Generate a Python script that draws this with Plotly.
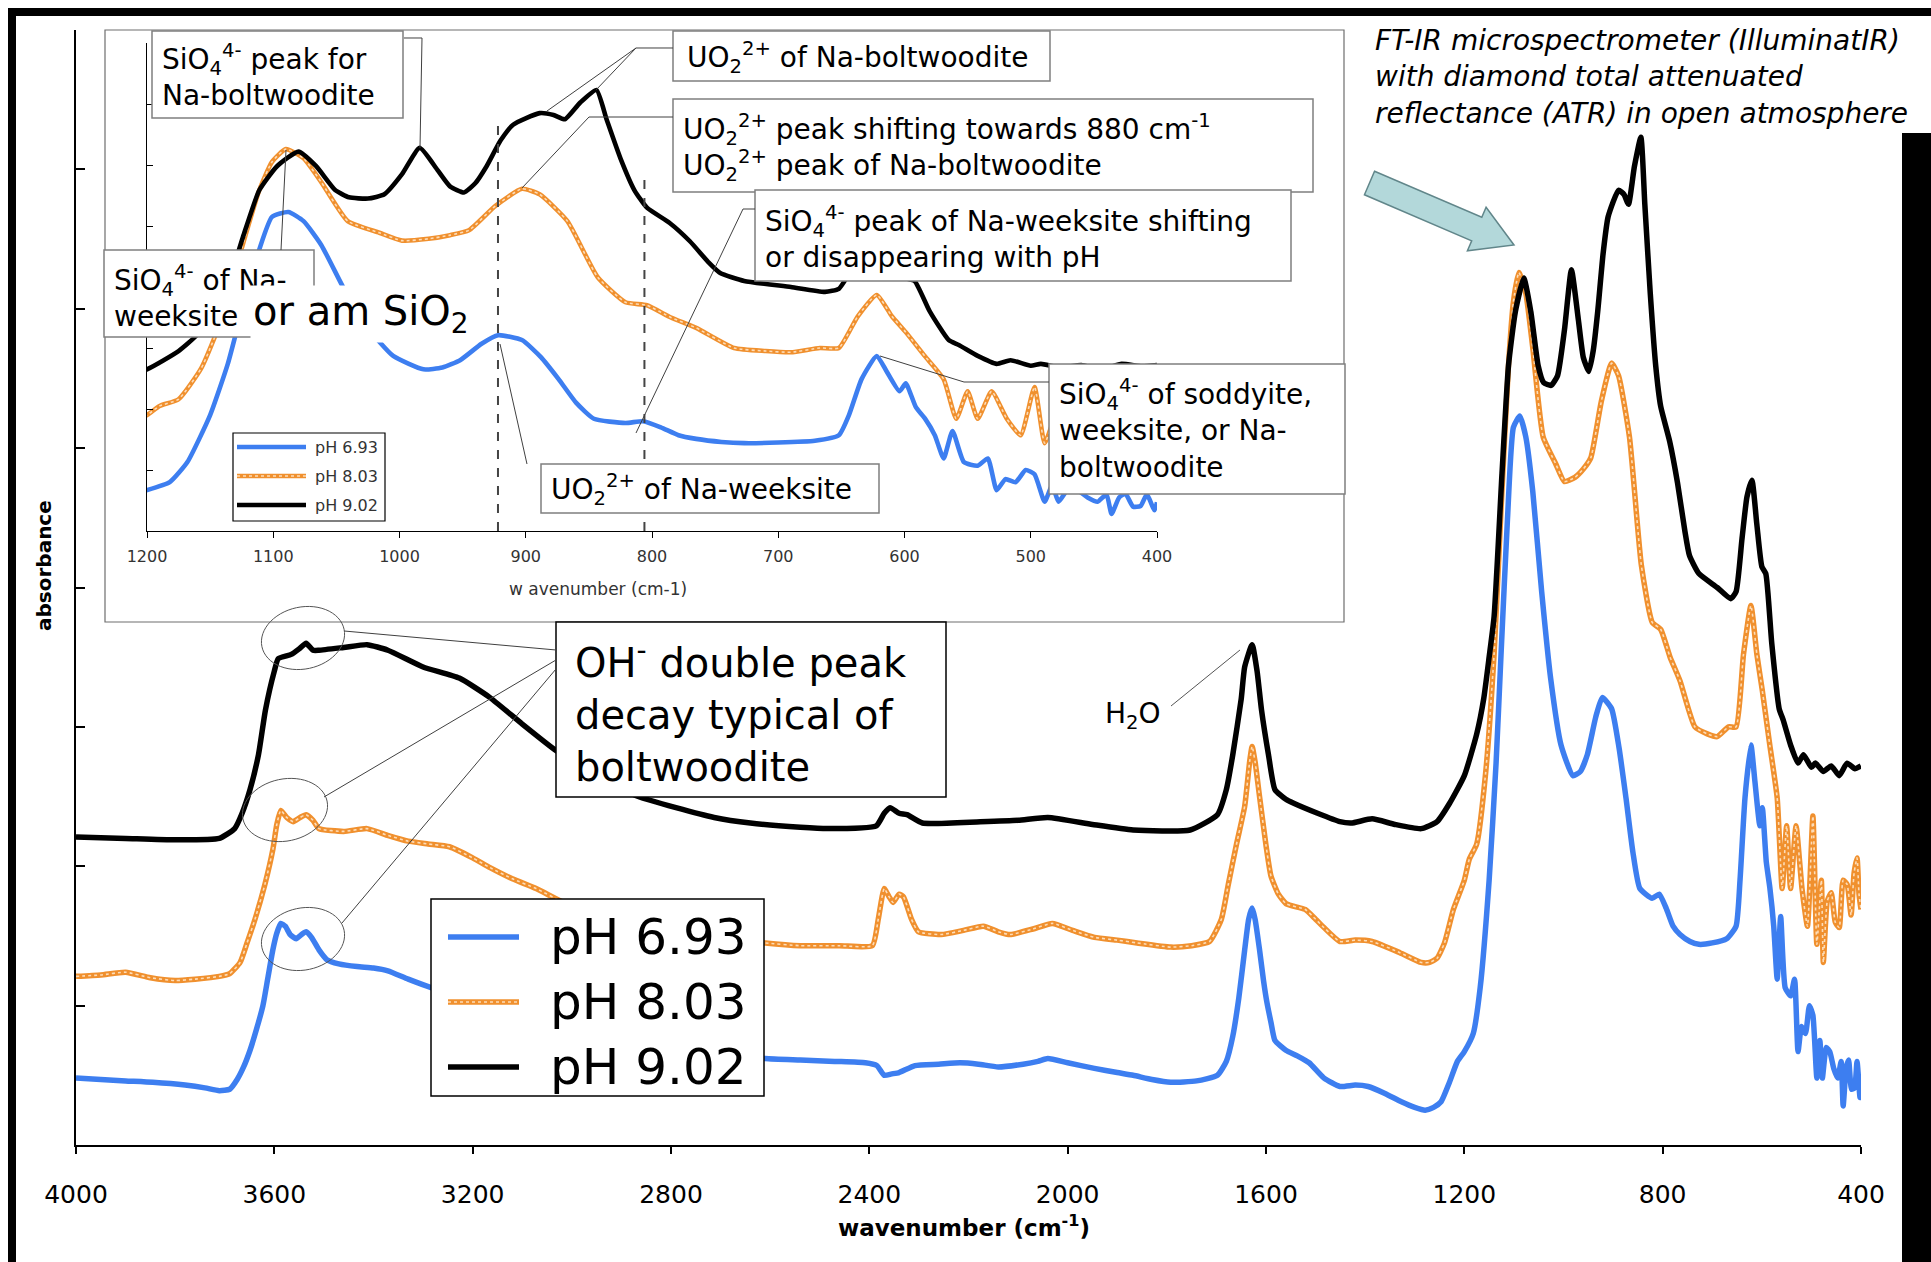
import math
import plotly.graph_objects as go

# ---------------- FT-IR spectra (offset absorbance, arbitrary units) ----------------
series_names = ["pH 6.93", "pH 8.03", "pH 9.02"]

wn_ph693 = [
    4000, 3950, 3900, 3845, 3780, 3740, 3711, 3690, 3675, 3662,
    3649, 3636, 3623, 3613, 3603, 3595, 3587, 3578, 3568, 3556,
    3545, 3536, 3525, 3510, 3494, 3470, 3433, 3400, 3371, 3330,
    3284, 3200, 3100, 3000, 2900, 2800, 2700, 2610, 2539, 2470,
    2408, 2385, 2370, 2355, 2340, 2308, 2260, 2217, 2180, 2140,
    2090, 2060, 2040, 2000, 1946, 1900, 1868, 1830, 1792, 1740,
    1698, 1680, 1667, 1655, 1643, 1635, 1628, 1622, 1613, 1605,
    1598, 1590, 1582, 1560, 1537, 1513, 1483, 1451, 1420, 1394,
    1360, 1327, 1300, 1279, 1262, 1247, 1230, 1214, 1200, 1182,
    1168, 1150, 1136, 1126, 1113, 1101, 1088, 1076, 1062, 1044,
    1026, 1005, 981, 966, 952, 935, 922, 903, 888, 874,
    860, 846, 821, 807, 793, 779, 765, 745, 727, 700,
    671, 652, 644, 634, 622, 614, 604, 599, 591, 584,
    576, 569, 562, 553, 542, 534, 527, 520, 512, 504,
    497, 489, 483, 478, 470, 463, 455, 447, 440, 436,
    430, 425, 419, 413, 408, 402, 400]
abs_ph693 = [
    0.48, 0.47, 0.46, 0.45, 0.43, 0.41, 0.39, 0.40, 0.47, 0.56,
    0.68, 0.83, 1.00, 1.20, 1.40, 1.52, 1.59, 1.57, 1.51, 1.48,
    1.51, 1.53, 1.49, 1.40, 1.33, 1.30, 1.28, 1.27, 1.25, 1.19,
    1.13, 1.05, 0.96, 0.88, 0.80, 0.73, 0.67, 0.62, 0.61, 0.60,
    0.59, 0.57, 0.50, 0.51, 0.52, 0.57, 0.58, 0.59, 0.58, 0.56,
    0.58, 0.60, 0.62, 0.59, 0.55, 0.52, 0.50, 0.47, 0.45, 0.46,
    0.50, 0.60, 0.78, 1.05, 1.40, 1.62, 1.70, 1.62, 1.40, 1.18,
    1.02, 0.88, 0.75, 0.68, 0.64, 0.59, 0.48, 0.42, 0.43, 0.42,
    0.37, 0.31, 0.27, 0.25, 0.27, 0.31, 0.45, 0.60, 0.67, 0.80,
    1.13, 1.90, 2.74, 3.52, 4.49, 5.15, 5.23, 5.08, 4.69, 3.97,
    3.35, 2.87, 2.65, 2.68, 2.80, 3.07, 3.21, 3.13, 2.85, 2.49,
    2.10, 1.84, 1.77, 1.80, 1.70, 1.57, 1.51, 1.46, 1.44, 1.45,
    1.48, 1.57, 1.90, 2.49, 2.87, 2.61, 2.29, 2.42, 2.03, 1.85,
    1.57, 1.19, 1.64, 1.13, 1.07, 1.19, 0.67, 0.85, 0.80, 1.00,
    0.93, 0.48, 0.75, 0.48, 0.70, 0.67, 0.55, 0.48, 0.60, 0.28,
    0.55, 0.61, 0.40, 0.41, 0.60, 0.34, 0.47]

wn_ph803 = [
    4000, 3950, 3900, 3850, 3800, 3760, 3711, 3690, 3669, 3655,
    3639, 3619, 3603, 3595, 3587, 3575, 3562, 3548, 3536, 3522,
    3510, 3460, 3413, 3370, 3330, 3290, 3247, 3200, 3165, 3120,
    3072, 3011, 2950, 2900, 2800, 2700, 2610, 2539, 2460, 2394,
    2382, 2370, 2360, 2352, 2340, 2331, 2315, 2301, 2255, 2210,
    2170, 2140, 2116, 2070, 2031, 1990, 1946, 1900, 1860, 1792,
    1750, 1714, 1690, 1676, 1660, 1643, 1633, 1628, 1622, 1613,
    1600, 1590, 1575, 1559, 1521, 1500, 1483, 1451, 1420, 1386,
    1330, 1287, 1270, 1255, 1240, 1222, 1200, 1190, 1175, 1157,
    1140, 1126, 1111, 1101, 1090, 1076, 1062, 1041, 1016, 998,
    977, 960, 945, 924, 903, 889, 867, 843, 821, 804,
    785, 765, 735, 710, 690, 667, 652, 637, 622, 610,
    599, 584, 569, 559, 550, 542, 531, 519, 508, 497,
    489, 480, 476, 468, 460, 452, 444, 436, 428, 420,
    414, 408, 404, 400]
abs_ph803 = [
    1.21, 1.22, 1.24, 1.20, 1.18, 1.19, 1.21, 1.23, 1.31, 1.45,
    1.62, 1.87, 2.12, 2.30, 2.40, 2.35, 2.32, 2.35, 2.37, 2.33,
    2.27, 2.25, 2.27, 2.22, 2.18, 2.16, 2.14, 2.06, 1.99, 1.91,
    1.84, 1.73, 1.66, 1.61, 1.54, 1.49, 1.45, 1.43, 1.43, 1.43,
    1.62, 1.84, 1.78, 1.74, 1.80, 1.78, 1.62, 1.53, 1.51, 1.54,
    1.57, 1.53, 1.51, 1.55, 1.59, 1.54, 1.49, 1.47, 1.45, 1.42,
    1.43, 1.46, 1.62, 1.87, 2.15, 2.43, 2.75, 2.86, 2.75, 2.50,
    2.15, 1.93, 1.80, 1.73, 1.69, 1.62, 1.56, 1.46, 1.47, 1.46,
    1.38, 1.31, 1.31, 1.34, 1.45, 1.69, 1.90, 2.05, 2.16, 2.67,
    3.52, 4.56, 5.59, 6.05, 6.26, 6.11, 5.72, 5.08, 4.89, 4.76,
    4.79, 4.85, 4.93, 5.33, 5.61, 5.52, 5.08, 4.16, 3.75, 3.70,
    3.50, 3.33, 3.00, 2.95, 2.93, 3.00, 3.00, 3.52, 3.87, 3.52,
    3.26, 2.87, 2.49, 1.84, 2.29, 1.84, 2.29, 1.84, 1.57, 2.36,
    1.44, 1.90, 1.31, 1.75, 1.81, 1.60, 1.56, 1.90, 1.87, 1.65,
    1.95, 2.06, 1.80, 1.69]

wn_ph902 = [
    4000, 3900, 3800, 3711, 3680, 3665, 3649, 3632, 3618, 3600,
    3592, 3566, 3550, 3536, 3522, 3510, 3460, 3413, 3371, 3300,
    3227, 3165, 3100, 3032, 2950, 2866, 2790, 2713, 2640, 2539,
    2485, 2386, 2370, 2358, 2340, 2324, 2293, 2176, 2100, 2040,
    1950, 1868, 1753, 1698, 1680, 1667, 1650, 1643, 1628, 1618,
    1609, 1595, 1582, 1560, 1543, 1496, 1451, 1428, 1386, 1340,
    1287, 1255, 1230, 1200, 1175, 1161, 1150, 1140, 1124, 1111,
    1097, 1080, 1066, 1051, 1040, 1025, 1012, 998, 984, 970,
    960, 949, 940, 931, 920, 910, 889, 878, 869, 857,
    844, 836, 825, 814, 804, 786, 770, 755, 746, 727,
    690, 663, 652, 640, 630, 620, 610, 600, 592, 580,
    565, 557, 542, 527, 516, 500, 492, 476, 460, 444,
    428, 412, 400]
abs_ph902 = [
    2.21, 2.20, 2.19, 2.20, 2.27, 2.38, 2.55, 2.80, 3.12, 3.40,
    3.49, 3.52, 3.56, 3.60, 3.55, 3.55, 3.57, 3.59, 3.55, 3.43,
    3.35, 3.21, 3.02, 2.83, 2.65, 2.50, 2.42, 2.35, 2.31, 2.28,
    2.27, 2.29, 2.38, 2.42, 2.38, 2.37, 2.31, 2.32, 2.33, 2.35,
    2.30, 2.26, 2.26, 2.37, 2.55, 2.80, 3.20, 3.43, 3.59, 3.40,
    3.12, 2.80, 2.55, 2.48, 2.45, 2.38, 2.32, 2.31, 2.34, 2.30,
    2.27, 2.32, 2.45, 2.65, 2.95, 3.20, 3.50, 3.79, 4.82, 5.59,
    5.98, 6.22, 5.98, 5.59, 5.47, 5.45, 5.52, 5.85, 6.28, 5.92,
    5.65, 5.55, 5.70, 5.98, 6.40, 6.66, 6.85, 6.82, 6.75, 7.02,
    7.23, 6.75, 6.11, 5.59, 5.30, 5.05, 4.75, 4.40, 4.23, 4.10,
    4.00, 3.92, 3.97, 4.35, 4.65, 4.77, 4.45, 4.15, 4.10, 3.60,
    3.13, 3.05, 2.87, 2.74, 2.80, 2.71, 2.74, 2.68, 2.72, 2.65,
    2.74, 2.70, 2.72]

main_xticks = [4000, 3600, 3200, 2800, 2400, 2000, 1600, 1200, 800, 400]
inset_xticks = [1200, 1100, 1000, 900, 800, 700, 600, 500, 400]
y_ticks = [0, 1, 2, 3, 4, 5, 6, 7, 8]
guide_wn = [922, 806]          # dashed guides in the inset (cm-1)

assert len(wn_ph693) == len(abs_ph693)
assert len(wn_ph803) == len(abs_ph803)
assert len(wn_ph902) == len(abs_ph902)

# ---------------- canvas geometry (pixels) ----------------
W, H = 1931, 1262
PL, PR, PT, PB = 76, 1861, 30, 1145      # main plotting area


def fx(X):
    return (X - PL) / (PR - PL)


def fy(Y):
    return (PB - Y) / (PB - PT)


BLUE = "#3d7ef0"
ORANGE = "#f0902e"
ORANGE_LIGHT = "#fcdcb8"
BLACK = "#000000"
FONT = "DejaVu Sans"
colors = [BLUE, ORANGE, BLACK]

fig = go.Figure()
spectra = [(wn_ph693, abs_ph693), (wn_ph803, abs_ph803), (wn_ph902, abs_ph902)]
for (xs, ys), name, col in zip(spectra, series_names, colors):
    for ax, ay, w in (("x", "y", 5.5), ("x2", "y2", 4.6)):
        fig.add_trace(go.Scatter(x=xs, y=ys, name=name, mode="lines",
                                 line=dict(color=col, width=w, shape="spline",
                                           smoothing=0.5),
                                 xaxis=ax, yaxis=ay, showlegend=False,
                                 hoverinfo="skip"))
        if col == ORANGE:
            # stippled look of the orange trace
            fig.add_trace(go.Scatter(x=xs, y=ys, name=name, mode="lines",
                                     line=dict(color=ORANGE_LIGHT, width=1.6, dash="dot",
                                               shape="spline", smoothing=0.5),
                                     xaxis=ax, yaxis=ay, showlegend=False,
                                     hoverinfo="skip"))

shapes = []
annotations = []


def rect(x0, y0, x1, y1, fill="white", color="#7f7f7f", width=1.5, layer="above"):
    shapes.append(dict(type="rect", xref="paper", yref="paper",
                       x0=fx(x0), x1=fx(x1), y0=fy(y1), y1=fy(y0),
                       fillcolor=fill, line=dict(color=color, width=width),
                       layer=layer))


def poly(pts, color="#404040", width=1.0, dash=None, fill=None, closed=False):
    d = "M " + " L ".join(f"{fx(x):.5f},{fy(y):.5f}" for x, y in pts)
    if closed:
        d += " Z"
    shp = dict(type="path", xref="paper", yref="paper", path=d,
               line=dict(color=color, width=width, dash=dash), layer="above")
    if fill:
        shp["fillcolor"] = fill
    shapes.append(shp)


def text(s, x, y, size, xanchor="left", color="black", bg=None, angle=0,
         align="left", pad=1):
    annotations.append(dict(xref="paper", yref="paper", x=fx(x), y=fy(y),
                            xanchor=xanchor, yanchor="middle", text=s,
                            showarrow=False, align=align, textangle=angle,
                            font=dict(family=FONT, size=size, color=color),
                            bgcolor=bg if bg else "rgba(0,0,0,0)",
                            borderpad=pad))


def ellipse(cx, cy, a, b, deg, n=60):
    th = math.radians(deg)
    pts = []
    for k in range(n + 1):
        t = 2 * math.pi * k / n
        ex, ey = a * math.cos(t), b * math.sin(t)
        pts.append((cx + ex * math.cos(th) - ey * math.sin(th),
                    cy - (ex * math.sin(th) + ey * math.cos(th))))
    poly(pts, color="#555555", width=1.0)


# ---- page frame ----
rect(8, 8, W + 5, 16, fill="black", color="black", width=0)
rect(8, 8, 16, H + 5, fill="black", color="black", width=0)
rect(1902, 133, W + 5, H + 5, fill="black", color="black", width=0)

# ---- inset panel ----
rect(105, 30, 1344, 622, fill="white", color="#6e6e6e", width=1.2, layer="below")
for g in guide_wn:
    shapes.append(dict(type="line", xref="x2", yref="paper", x0=g, x1=g,
                       y0=fy(531), y1=fy(117 if g > 900 else 180),
                       line=dict(color="#444444", width=2, dash="dash"),
                       layer="above"))

# ---- annotation boxes (inset) ----
INSET_FS = 28
rect(152, 31, 403, 118)
text("SiO<sub>4</sub><sup>4-</sup> peak for<br>Na-boltwoodite", 160, 75, INSET_FS)
rect(673, 31, 1050, 81)
text("UO<sub>2</sub><sup>2+</sup> of Na-boltwoodite", 685, 57, INSET_FS)
rect(673, 99, 1313, 192)
text("UO<sub>2</sub><sup>2+</sup> peak shifting towards 880 cm<sup>-1</sup><br>"
     "UO<sub>2</sub><sup>2+</sup> peak of Na-boltwoodite", 681, 147, INSET_FS)
rect(755, 190, 1291, 281)
text("SiO<sub>4</sub><sup>4-</sup> peak of Na-weeksite shifting<br>or disappearing with pH",
     763, 237, INSET_FS)
rect(104, 250, 314, 337)
text("SiO<sub>4</sub><sup>4-</sup> of Na-<br>weeksite", 112, 296, INSET_FS)
rect(541, 464, 879, 513)
text("UO<sub>2</sub><sup>2+</sup> of Na-weeksite", 549, 489, INSET_FS)
rect(1049, 364, 1345, 494)
text("SiO<sub>4</sub><sup>4-</sup> of soddyite,<br>weeksite, or Na-<br>boltwoodite",
     1057, 429, INSET_FS)
text("or am SiO<sub>2</sub>", 250, 314, 40, bg="white", pad=2)

# leader lines in the inset
poly([(404, 38), (422, 38), (420, 148)])
poly([(673, 48), (636, 48), (547, 111)])
poly([(636, 48), (596, 90)])
poly([(673, 117), (589, 117), (522, 188)])
poly([(755, 209), (743, 209), (636, 433)])
poly([(281, 250), (286, 150)])
poly([(527, 464), (500, 344)])
poly([(1049, 382), (964, 382), (880, 356)])

# ---- inset legend ----
rect(233, 433, 385, 521, color="black", width=1.2)
for i, (name, col) in enumerate(zip(series_names, colors)):
    yy = 447 + 29 * i
    poly([(237, yy), (306, yy)], color=col, width=4.5)
    if col == ORANGE:
        poly([(237, yy), (306, yy)], color=ORANGE_LIGHT, width=1.4, dash="dot")
    text(name, 313, yy, 16, color="#333333")

# ---- main-plot annotations ----
rect(556, 622, 946, 797, color="black", width=1.5)
text("OH<sup>-</sup> double peak<br>decay typical of<br>boltwoodite", 573, 712, 40)
poly([(556, 650), (344, 631)])
poly([(556, 660), (324, 797)])
poly([(556, 669), (342, 923)])
ellipse(303, 638, 42, 31, 12)
ellipse(285, 810, 43, 31, 12)
ellipse(303, 939, 42, 31, 12)

text("H<sub>2</sub>O", 1133, 715, 28, xanchor="center")
poly([(1171, 706), (1240, 650)], color="#555555")

text("<i>FT-IR microspectrometer (IlluminatIR)<br>with diamond total attenuated<br>"
     "reflectance (ATR) in open atmosphere</i>", 1373, 77, 28)

# block arrow pointing at the fingerprint region
Tx, Ty = 1369.5, 183.0
Px, Py = 1514.0, 245.0
L = math.hypot(Px - Tx, Py - Ty)
ux, uy = (Px - Tx) / L, (Py - Ty) / L
nx, ny = -uy, ux
shaft_hw, head_hw, shaft_len = 12.8, 23.7, 116.7
bx, by = Tx + shaft_len * ux, Ty + shaft_len * uy
arrow_pts = [
    (Tx - shaft_hw * nx, Ty - shaft_hw * ny),
    (bx - shaft_hw * nx, by - shaft_hw * ny),
    (bx - head_hw * nx, by - head_hw * ny),
    (Px, Py),
    (bx + head_hw * nx, by + head_hw * ny),
    (bx + shaft_hw * nx, by + shaft_hw * ny),
    (Tx + shaft_hw * nx, Ty + shaft_hw * ny),
]
poly(arrow_pts, color="#61868a", width=1.5, fill="#b3d8da", closed=True)

# ---- main legend ----
rect(431, 899, 764, 1096, color="black", width=1.5)
for i, (name, col) in enumerate(zip(series_names, colors)):
    yy = 937 + 65 * i
    poly([(448, yy), (519, yy)], color=col, width=5.5)
    if col == ORANGE:
        poly([(448, yy), (519, yy)], color=ORANGE_LIGHT, width=1.6, dash="dot")
    text(name, 548, yy, 50)

# ---- axis titles ----
text("<b>absorbance</b>", 44, 566, 20, xanchor="center", angle=-90)
text("<b>wavenumber (cm<sup>-1</sup>)</b>", 964, 1226, 23, xanchor="center")
text("w avenumber (cm-1)", 598, 589, 17, xanchor="center", color="#333333")

axis_common = dict(showgrid=False, zeroline=False, showline=True,
                   linecolor="black", tickcolor="black", automargin=False)

fig.update_layout(
    width=W, height=H,
    margin=dict(l=PL, r=W - PR, t=PT, b=H - PB, pad=0),
    paper_bgcolor="white", plot_bgcolor="white",
    showlegend=False, hovermode=False,
    font=dict(family=FONT, color="black"),
    xaxis=dict(domain=[0, 1], range=[4000, 400], anchor="y",
               tickmode="array", tickvals=main_xticks,
               ticktext=[str(v) for v in main_xticks],
               ticks="outside", ticklen=7, tickwidth=1.5, linewidth=1.5,
               tickfont=dict(family=FONT, size=25, color="black"),
               ticklabelstandoff=19, **axis_common),
    yaxis=dict(domain=[0, 1], range=[0, 8], anchor="x",
               tickmode="array", tickvals=y_ticks, showticklabels=False,
               ticks="inside", ticklen=9, tickwidth=1.5, linewidth=1.5,
               **axis_common),
    xaxis2=dict(domain=[fx(147), fx(1157)], range=[1200, 400], anchor="y2",
                tickmode="array", tickvals=inset_xticks,
                ticktext=[str(v) for v in inset_xticks],
                ticks="outside", ticklen=6, tickwidth=1, linewidth=1,
                tickfont=dict(family=FONT, size=16, color="#333333"),
                ticklabelstandoff=5, **axis_common),
    yaxis2=dict(domain=[fy(531), fy(43)], range=[0, 8], anchor="x2",
                tickmode="array", tickvals=y_ticks, showticklabels=False,
                ticks="inside", ticklen=6, tickwidth=1, linewidth=1,
                **axis_common),
    shapes=shapes,
    annotations=annotations,
)

fig.write_html("out.html")
